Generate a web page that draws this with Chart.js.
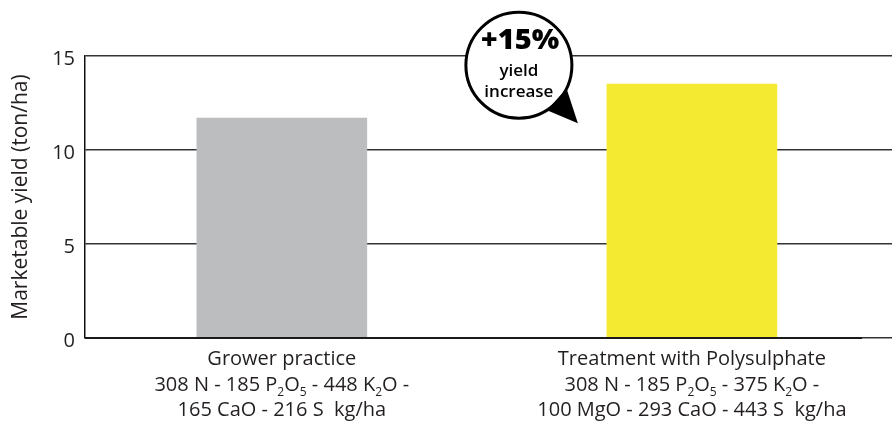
<!DOCTYPE html>
<html>
<head>
<meta charset="utf-8">
<script src="https://cdn.jsdelivr.net/npm/chart.js@4"></script>
<style>
  html, body { margin: 0; padding: 0; background: #fff; }
  #wrap { width: 892px; height: 421px; }
</style>
</head>
<body>
<div id="wrap"><canvas id="chart" width="892" height="421"></canvas></div>
<script>
// ---- data ----
const categories = ['Grower practice', 'Treatment with Polysulphate'];
// nutrient lines under each category; "_n" marks a subscript digit
const doseLines = [
  ['308 N - 185 P_2O_5 - 448 K_2O -', '165 CaO - 216 S  kg/ha'],
  ['308 N - 185 P_2O_5 - 375 K_2O -', '100 MgO - 293 CaO - 443 S  kg/ha']
];
const yieldValues = [11.7, 13.5];
const yTicks = [0, 5, 10, 15];
const yTitle = 'Marketable yield (ton/ha)';
const barColors = ['#BCBDBF', '#F4EA32'];

const FONT = '"Open Sans", "Noto Sans", sans-serif';
const TEXT = '#231F20';

// draws a line of text where "_d" renders d as a subscript, centred on cx
function drawRichLine(ctx, str, cx, y, size) {
  const parts = [];
  for (let i = 0; i < str.length; i++) {
    if (str[i] === '_' && i + 1 < str.length) { parts.push({t: str[i + 1], sub: true}); i++; }
    else {
      const last = parts[parts.length - 1];
      if (last && !last.sub) last.t += str[i]; else parts.push({t: str[i], sub: false});
    }
  }
  const big = size + 'px ' + FONT, small = Math.round(size * 0.62) + 'px ' + FONT;
  let total = 0;
  parts.forEach(p => { ctx.font = p.sub ? small : big; p.w = ctx.measureText(p.t).width; total += p.w; });
  let x = cx - total / 2;
  ctx.textAlign = 'left';
  ctx.textBaseline = 'middle';
  parts.forEach(p => {
    ctx.font = p.sub ? small : big;
    ctx.fillText(p.t, x, p.sub ? y + size * 0.36 : y);
    x += p.w;
  });
}

const labelsPlugin = {
  id: 'categoryLabels',
  afterDatasetsDraw(chart) {
    const {ctx, scales: {x, y}, chartArea} = chart;
    ctx.save();
    // heavier baseline along zero
    const y0 = y.getPixelForValue(0);
    ctx.strokeStyle = '#1A1A1A';
    ctx.lineWidth = 2;
    ctx.beginPath();
    ctx.moveTo(chartArea.left, y0);
    ctx.lineTo(chartArea.right - 30, y0);
    ctx.stroke();

    ctx.fillStyle = TEXT;
    categories.forEach((name, i) => {
      const cx = x.getPixelForValue(i);
      drawRichLine(ctx, name, cx, y0 + 21, 20);
      doseLines[i].forEach((line, j) => drawRichLine(ctx, line, cx, y0 + 47 + j * 25, 20));
    });
    ctx.restore();
  },
  afterDraw(chart) {
    // speech bubble with the relative yield gain, pointing at the treatment bar
    const {ctx} = chart;
    const bar = chart.getDatasetMeta(0).data[1];
    const cx = bar.x - 173, cy = bar.y - 19, r = 53;
    const tipX = bar.x - 114, tipY = bar.y + 39;
    const gain = Math.round((yieldValues[1] - yieldValues[0]) / yieldValues[0] * 100);
    ctx.save();
    ctx.beginPath();
    ctx.arc(cx, cy, r, 0, Math.PI * 2);
    ctx.fillStyle = '#fff';
    ctx.fill();
    ctx.lineWidth = 3;
    ctx.strokeStyle = '#000';
    ctx.stroke();
    const a1 = 26 * Math.PI / 180, a2 = 58 * Math.PI / 180;
    ctx.beginPath();
    ctx.moveTo(cx + r * Math.cos(a1), cy + r * Math.sin(a1));
    ctx.lineTo(tipX, tipY);
    ctx.lineTo(cx + r * Math.cos(a2), cy + r * Math.sin(a2));
    ctx.closePath();
    ctx.fillStyle = '#000';
    ctx.fill();
    ctx.textAlign = 'center';
    ctx.textBaseline = 'middle';
    ctx.fillStyle = '#000';
    ctx.font = '800 29px ' + FONT;
    ctx.fillText('+' + gain + '%', cx + 1, cy - 24);
    ctx.font = '600 17px ' + FONT;
    ctx.fillText('yield', cx, cy + 6);
    ctx.fillText('increase', cx, cy + 27);
    ctx.restore();
  }
};

new Chart(document.getElementById('chart'), {
  type: 'bar',
  data: {
    datasets: [{
      data: yieldValues.map((v, i) => ({x: i, y: v})),
      backgroundColor: barColors,
      borderWidth: 0,
      barThickness: 170
    }]
  },
  options: {
    responsive: false,
    animation: false,
    events: [],
    layout: { padding: { top: 56, bottom: 83, left: 0, right: 0 } },
    plugins: { legend: { display: false }, tooltip: { enabled: false } },
    scales: {
      x: {
        type: 'linear',
        display: false,
        offset: false,
        min: -0.48,
        max: 1.488
      },
      y: {
        min: 0,
        max: 15,
        afterFit(scale) { scale.width = 85; },
        afterBuildTicks(scale) { scale.ticks = yTicks.map(v => ({value: v})); },
        ticks: {
          color: TEXT,
          font: { family: FONT, size: 20 },
          padding: 10,
          labelOffset: 3
        },
        grid: {
          color: '#333',
          lineWidth: 1.5,
          drawTicks: false,
          tickLength: 0
        },
        border: { display: true, color: '#111', width: 1.5 },
        title: {
          display: true,
          text: yTitle,
          color: TEXT,
          font: { family: FONT, size: 21 },
          padding: { top: 8, bottom: 0 }
        }
      }
    }
  },
  plugins: [labelsPlugin]
});
</script>
</body>
</html>
